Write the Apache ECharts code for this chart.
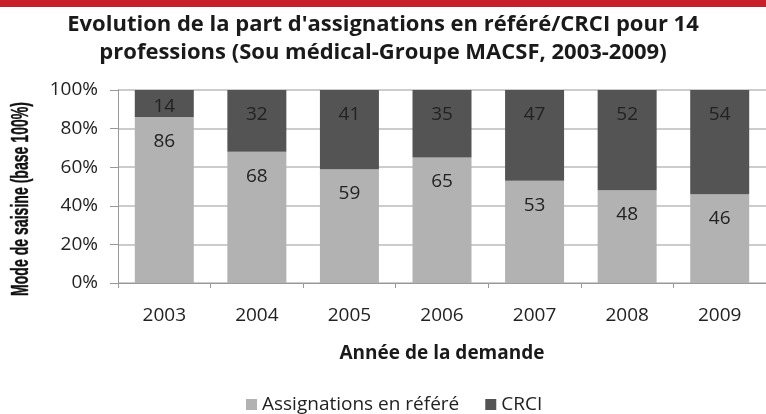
<!DOCTYPE html>
<html><head><meta charset="utf-8">
<script src="https://cdn.jsdelivr.net/npm/echarts@6/dist/echarts.min.js"></script>
<style>html,body{margin:0;padding:0;background:#fff}#c{width:766px;height:414px}</style>
</head><body><div id="c"></div>
<script>
const categories = ['2003','2004','2005','2006','2007','2008','2009'];
const refere = [86,68,59,65,53,48,46];
const crci = [14,32,41,35,47,52,54];
const yName = 'Mode de saisine (base 100%)';
const chart = echarts.init(document.getElementById('c'));
const font = '"Open Sans", sans-serif';
const yFont = 'bold 23px "Liberation Sans Narrow", "Liberation Sans", sans-serif';
const mctx = document.createElement('canvas').getContext('2d');
mctx.font = yFont;
const yScale = 194 / mctx.measureText(yName).width;
chart.setOption({
  animation:false,
  graphic:[
    {type:'rect',shape:{x:0,y:0,width:766,height:7},style:{fill:'#c8202a'}},
    {type:'text',x:22,y:199,rotation:Math.PI/2,scaleX:yScale,scaleY:1,
     style:{text:yName,font:yFont,fill:'#111',stroke:'#111',lineWidth:0.4,align:'center',verticalAlign:'middle'}}
  ],
  title:{text:"Evolution de la part d'assignations en référé/CRCI pour 14\nprofessions (Sou médical-Groupe MACSF, 2003-2009)",left:'center',top:6,
    textStyle:{fontFamily:font,fontWeight:'bold',fontSize:22,lineHeight:28,color:'#1a1a1a'}},
  grid:{left:118,right:-5,top:90,bottom:131},
  legend:{top:390,left:241,itemWidth:11,itemHeight:11,itemGap:26,icon:'rect',
    textStyle:{fontFamily:font,fontSize:19,color:'#222'},data:['Assignations en référé','CRCI']},
  xAxis:{type:'category',data:categories,
    name:'Année de la demande',nameLocation:'middle',nameGap:61,
    nameTextStyle:{fontFamily:font,fontWeight:'bold',fontSize:19,color:'#1a1a1a'},
    axisLine:{lineStyle:{color:'#999'}},axisTick:{show:true,length:5,lineStyle:{color:'#999'}},
    axisLabel:{fontFamily:font,fontSize:19,color:'#222',margin:23}},
  yAxis:{type:'value',min:0,max:100,interval:20,
    axisLine:{show:true,lineStyle:{color:'#999'}},axisTick:{show:true,length:8,lineStyle:{color:'#999'}},
    splitLine:{lineStyle:{color:'#bbb',width:1.5}},
    axisLabel:{fontFamily:font,fontSize:19,color:'#222',margin:20,formatter:v=>v+'%'}},
  series:[
    {name:'Assignations en référé',type:'bar',stack:'a',data:refere,barWidth:59,itemStyle:{color:'#b2b2b2'},
     label:{show:true,position:'insideTop',distance:15,fontFamily:font,fontSize:19,color:'#222'}},
    {name:'CRCI',type:'bar',stack:'a',data:crci,itemStyle:{color:'#545454'},
     label:{show:true,position:'insideTop',distance:15,fontFamily:font,fontSize:19,color:'#222'},
     labelLayout:p=>p.dataIndex===0?{dy:-8}:{}}
  ]
});
</script></body></html>
